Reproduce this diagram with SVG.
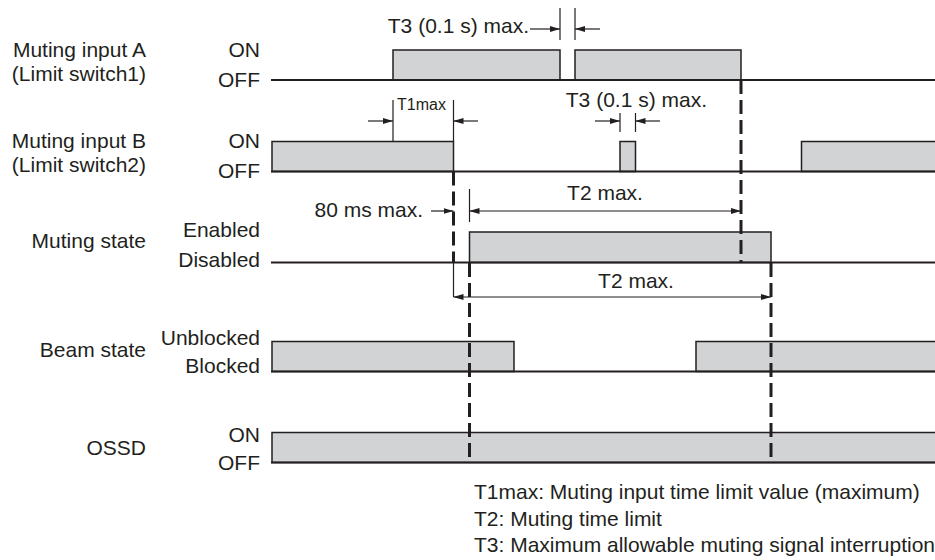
<svg xmlns="http://www.w3.org/2000/svg" width="935" height="560" viewBox="0 0 935 560">
<defs>
<marker id="ah" viewBox="0 0 10 6" refX="10" refY="3" markerWidth="10" markerHeight="6" markerUnits="userSpaceOnUse" orient="auto-start-reverse">
<path d="M0,0 L10,3 L0,6 z" fill="#231f20"/>
</marker>
<style>
text{font-family:"Liberation Sans",Arial,sans-serif;font-size:21px;fill:#231f20}
.lbl{text-anchor:end}
.base{stroke:#231f20;stroke-width:2;fill:none}
.pulse{fill:#d1d3d4;stroke:#231f20;stroke-width:1.5}
.dash{stroke:#231f20;stroke-width:3;stroke-dasharray:14 6;fill:none}
.ext{stroke:#231f20;stroke-width:1.2;fill:none}
.arr{stroke:#231f20;stroke-width:1.2;fill:none;marker-end:url(#ah)}
.arr2{stroke:#231f20;stroke-width:1.2;fill:none;marker-start:url(#ah);marker-end:url(#ah)}
</style>
</defs>
<rect width="935" height="560" fill="#ffffff"/>

<g id="signal-a">
<text class="lbl" x="146" y="57">Muting input A</text>
<text class="lbl" x="146" y="81">(Limit switch1)</text>
<text class="lbl" x="260" y="57">ON</text>
<text class="lbl" x="260" y="87">OFF</text>
<rect class="pulse" x="393" y="50" width="167" height="30"/>
<rect class="pulse" x="575" y="50" width="166" height="30"/>
<line class="base" x1="271" y1="80" x2="935" y2="80"/>
</g>

<g id="signal-b">
<text class="lbl" x="146" y="148">Muting input B</text>
<text class="lbl" x="146" y="172">(Limit switch2)</text>
<text class="lbl" x="260" y="148">ON</text>
<text class="lbl" x="260" y="178">OFF</text>
<rect class="pulse" x="272" y="141.5" width="181.5" height="30"/>
<rect class="pulse" x="620" y="141.5" width="15.5" height="30"/>
<rect class="pulse" x="801.5" y="141.5" width="140" height="30"/>
<line class="base" x1="271" y1="171.5" x2="935" y2="171.5"/>
</g>

<g id="muting-state">
<text class="lbl" x="146" y="248">Muting state</text>
<text class="lbl" x="260" y="237">Enabled</text>
<text class="lbl" x="260" y="267">Disabled</text>
<rect class="pulse" x="469.5" y="232" width="301.5" height="30.5"/>
<line class="base" x1="271" y1="262.5" x2="935" y2="262.5"/>
</g>

<g id="beam-state">
<text class="lbl" x="146" y="357">Beam state</text>
<text class="lbl" x="260" y="345">Unblocked</text>
<text class="lbl" x="260" y="373">Blocked</text>
<rect class="pulse" x="272" y="341.5" width="242" height="30"/>
<rect class="pulse" x="696" y="341.5" width="245" height="30"/>
<line class="base" x1="271" y1="371.5" x2="935" y2="371.5"/>
</g>

<g id="ossd">
<text class="lbl" x="146" y="455">OSSD</text>
<text class="lbl" x="260" y="442">ON</text>
<text class="lbl" x="260" y="470">OFF</text>
<rect class="pulse" x="272" y="432.5" width="670" height="30"/>
<line class="base" x1="271" y1="462.5" x2="935" y2="462.5"/>
</g>

<g id="connectors">
<path class="dash" d="M741,80 V262.5"/>
<path class="dash" d="M453.5,171.5 V262"/>
<path class="dash" d="M469.5,263 V462.5"/>
<path class="dash" d="M771,263 V462.5"/>

<path class="ext" d="M560,8 V40 M575,8 V40"/>
<path class="arr" d="M530,29 H560"/>
<path class="arr" d="M600,29 H575"/>

<path class="ext" d="M393,100 V141.5 M453.5,100 V141.5"/>
<path class="arr" d="M368,121 H393"/>
<path class="arr" d="M478,121 H453.5"/>

<path class="ext" d="M620,113 V132 M635.5,113 V132"/>
<path class="arr" d="M595,121 H620"/>
<path class="arr" d="M660,121 H635.5"/>

<path class="ext" d="M469.5,189 V222"/>
<path class="arr" d="M431,211 H453.5"/>
<path class="arr2" d="M469.5,211 H741"/>

<path class="ext" d="M453.5,263 V297"/>
<path class="arr2" d="M453.5,297 H771"/>
</g>

<g id="dimension-labels">
<text class="lbl" x="529" y="33">T3 (0.1 s) max.</text>
<text x="397" y="110" style="font-size:16px">T1max</text>
<text class="lbl" x="707" y="107">T3 (0.1 s) max.</text>
<text class="lbl" x="423" y="217">80 ms max.</text>
<text x="605" y="200" text-anchor="middle">T2 max.</text>
<text x="636" y="288" text-anchor="middle">T2 max.</text>
</g>

<g id="legend">
<text x="474" y="499">T1max: Muting input time limit value (maximum)</text>
<text x="474" y="525.5">T2: Muting time limit</text>
<text x="474" y="552">T3: Maximum allowable muting signal interruption</text>
</g>
</svg>
